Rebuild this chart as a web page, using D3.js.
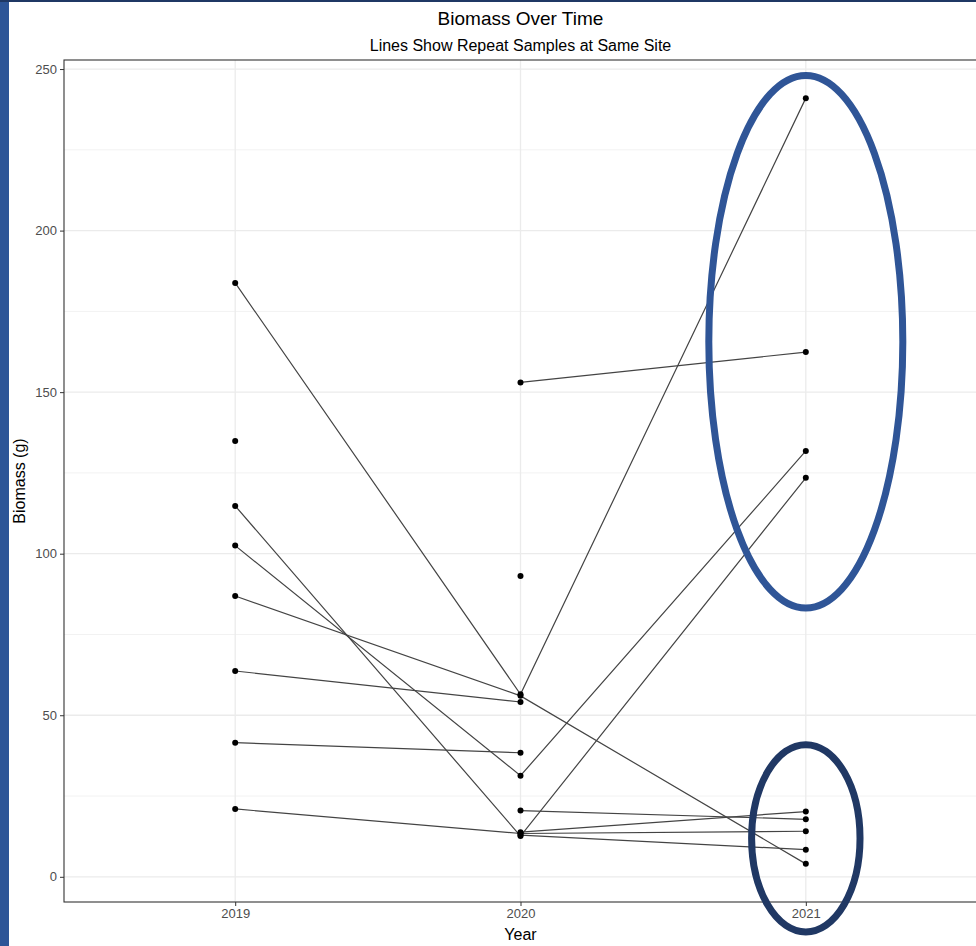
<!DOCTYPE html>
<html>
<head>
<meta charset="utf-8">
<script src="https://cdn.jsdelivr.net/npm/d3@7"></script>
<style>
  html, body { margin: 0; padding: 0; background: #ffffff; }
  svg { display: block; font-family: "Liberation Sans", Arial, sans-serif; }
</style>
</head>
<body>
<svg id="chart" width="976" height="946"></svg>
<script>
// ---- Data ----
const years = ["2019", "2020", "2021"];
const sites = ["A", "B", "C", "D", "E", "F", "G", "H", "I", "J", "K", "L", "M"];
const biomass2019 = [183.8, null, 134.9, 86.9, 63.7, 114.8, 102.5, 41.5, 21.0, null, null, null, null];
const biomass2020 = [56.5, 153.0, null, 56.0, 54.1, 12.6, 31.3, 38.4, 13.4, 93.1, 20.5, 13.8, 12.9];
const biomass2021 = [241.0, 162.4, null, 4.0, null, 123.5, 131.8, null, 14.1, null, 17.8, 20.2, 8.4];
const yTicks = [0, 50, 100, 150, 200, 250];
const yMinorTicks = [25, 75, 125, 175, 225];
const titleText = "Biomass Over Time";
const subtitleText = "Lines Show Repeat Samples at Same Site";
const xTitle = "Year";
const yTitle = "Biomass (g)";
// highlight ellipses (data units: year, centre value, half-height in value units, half-width in steps)
const highlights = [
  { year: "2021", centre: 165.6, halfRange: 82.4, halfStep: 0.34, color: "#2F5597" },
  { year: "2021", centre: 11.9, halfRange: 29.0, halfStep: 0.19, color: "#203864" }
];

const seriesByYear = [biomass2019, biomass2020, biomass2021];
const siteData = sites.map((s, i) => ({
  site: s,
  values: years.map((yr, j) => ({ year: yr, value: seriesByYear[j][i] }))
}));

// ---- Layout ----
const svg = d3.select("#chart");
const W = 976, H = 946;
const panel = { left: 64, right: 977, top: 60, bottom: 902 };

// page decoration (slide frame)
svg.append("rect").attr("x", 0).attr("y", 0).attr("width", W).attr("height", H).attr("fill", "#ffffff");
svg.append("rect").attr("x", 0).attr("y", 0).attr("width", 9).attr("height", H).attr("fill", "#2D5597");
svg.append("rect").attr("x", 0).attr("y", 0).attr("width", W).attr("height", 2).attr("fill", "#1F3864");

const x = d3.scalePoint().domain(years).range([panel.left, panel.right]).padding(0.6);
const y = d3.scaleLinear().domain([-7.8, 252.8]).range([panel.bottom, panel.top]);

const g = svg.append("g");

// grid
g.selectAll(".minor").data(yMinorTicks).join("line")
  .attr("x1", panel.left).attr("x2", panel.right)
  .attr("y1", d => y(d)).attr("y2", d => y(d))
  .attr("stroke", "#f2f2f2").attr("stroke-width", 1);
g.selectAll(".major").data(yTicks).join("line")
  .attr("x1", panel.left).attr("x2", panel.right)
  .attr("y1", d => y(d)).attr("y2", d => y(d))
  .attr("stroke", "#ebebeb").attr("stroke-width", 1.3);
g.selectAll(".vmajor").data(years).join("line")
  .attr("x1", d => x(d)).attr("x2", d => x(d))
  .attr("y1", panel.top).attr("y2", panel.bottom)
  .attr("stroke", "#ebebeb").attr("stroke-width", 1.3);

// lines
const line = d3.line()
  .defined(d => d.value !== null)
  .x(d => x(d.year))
  .y(d => y(d.value));
g.selectAll(".site-line").data(siteData).join("path")
  .attr("d", d => line(d.values))
  .attr("fill", "none")
  .attr("stroke", "#444444")
  .attr("stroke-width", 1.2);

// points
const pts = siteData.flatMap(d => d.values.filter(v => v.value !== null));
g.selectAll(".pt").data(pts).join("circle")
  .attr("cx", d => x(d.year)).attr("cy", d => y(d.value))
  .attr("r", 3).attr("fill", "#000");

// panel border
g.append("rect")
  .attr("x", panel.left).attr("y", panel.top)
  .attr("width", panel.right - panel.left).attr("height", panel.bottom - panel.top)
  .attr("fill", "none").attr("stroke", "#333333").attr("stroke-width", 1.1);

// axes
const yAxis = d3.axisLeft(y).tickValues(yTicks).tickSize(4).tickPadding(3);
const ya = svg.append("g").attr("transform", `translate(${panel.left},0)`).call(yAxis);
ya.select(".domain").remove();
ya.selectAll("line").attr("stroke", "#333333");
ya.selectAll("text").attr("fill", "#4d4d4d").style("font-size", "13px")
  .style("font-family", "'Liberation Sans', Arial, sans-serif");

const xAxis = d3.axisBottom(x).tickSize(4).tickPadding(3);
const xa = svg.append("g").attr("transform", `translate(0,${panel.bottom})`).call(xAxis);
xa.select(".domain").remove();
xa.selectAll("line").attr("stroke", "#333333");
xa.selectAll("text").attr("fill", "#4d4d4d").style("font-size", "13px")
  .style("font-family", "'Liberation Sans', Arial, sans-serif");

// titles
const cx = (panel.left + panel.right) / 2;
svg.append("text").attr("x", cx).attr("y", 25).attr("text-anchor", "middle")
  .style("font-size", "19px").attr("fill", "#000").text(titleText);
svg.append("text").attr("x", cx).attr("y", 51).attr("text-anchor", "middle")
  .style("font-size", "16px").attr("fill", "#000").text(subtitleText);
svg.append("text").attr("x", cx).attr("y", 940).attr("text-anchor", "middle")
  .style("font-size", "16px").attr("fill", "#000").text(xTitle);
svg.append("text")
  .attr("transform", `translate(25,${(panel.top + panel.bottom) / 2}) rotate(-90)`)
  .attr("text-anchor", "middle")
  .style("font-size", "16px").attr("fill", "#000").text(yTitle);

// highlight ellipses
const step = x.step();
svg.selectAll(".hl").data(highlights).join("ellipse")
  .attr("cx", d => x(d.year))
  .attr("cy", d => y(d.centre))
  .attr("rx", d => d.halfStep * step)
  .attr("ry", d => Math.abs(y(d.centre + d.halfRange) - y(d.centre)))
  .attr("fill", "none")
  .attr("stroke", d => d.color)
  .attr("stroke-width", 7);
</script>
</body>
</html>
